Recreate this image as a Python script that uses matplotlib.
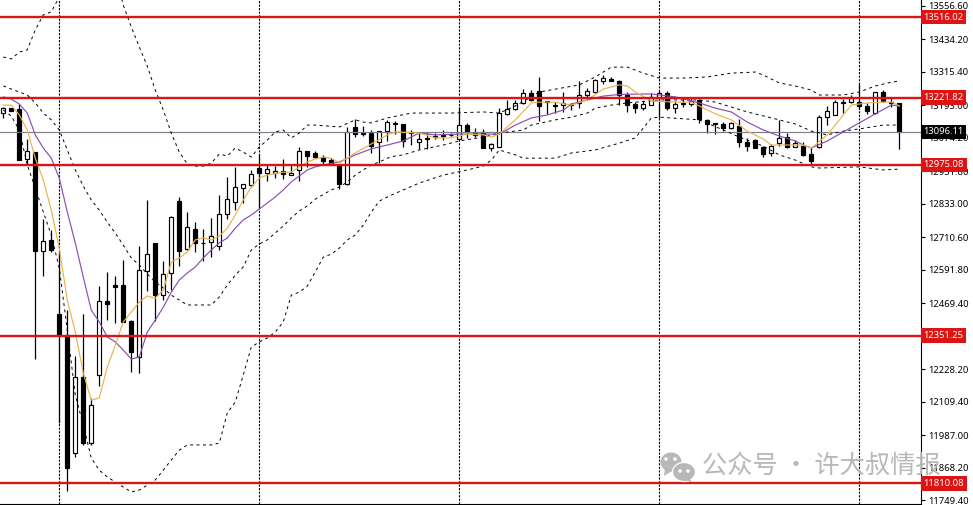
import matplotlib
matplotlib.use("Agg")
import matplotlib.pyplot as plt
from matplotlib.patches import Ellipse, Polygon

# candles, oldest first
opens = [13165,13182,13180,12996,13022,12661,12700,12430,12353,11920,12200,11957,12206,12478,12537,12536,12405,12272,12588,12688,12499,12579,12844,12667,12742,12691,12692,12680,12795,12838,12892,12902,12964,12945,12947,12954,12939,12957,13025,13018,13005,12993,12975,12905,13113,13092,13093,13058,13098,13130,13124,13096,13058,13073,13080,13084,13086,13071,13121,13085,13097,13036,13040,13163,13179,13201,13237,13244,13210,13196,13193,13198,13201,13230,13243,13283,13291,13281,13232,13198,13183,13196,13219,13237,13183,13201,13199,13213,13140,13127,13125,13111,13118,13060,13066,13040,13018,13054,13078,13042,13044,13014,13040,13149,13159,13205,13204,13206,13191,13164,13241,13204,13201]
highs = [13187,13183,13198,13069,13022,12777,12737,12661,12444,12276,12430,12123,12532,12585,12569,12627,12408,12679,12847,12690,12624,12788,12859,12803,12767,12741,12781,12865,12930,12966,12905,12957,13012,12975,12971,12996,12979,13040,13027,13027,13012,13000,12979,13115,13142,13118,13103,13100,13140,13137,13125,13103,13091,13097,13092,13103,13091,13186,13130,13109,13105,13056,13182,13213,13213,13252,13249,13296,13210,13206,13243,13203,13283,13255,13288,13303,13296,13286,13242,13206,13210,13237,13247,13247,13210,13223,13223,13215,13142,13129,13132,13133,13142,13073,13069,13044,13052,13140,13093,13066,13060,13042,13158,13191,13213,13215,13231,13274,13201,13243,13249,13219,13202]
lows = [13147,13172,12993,12979,12265,12569,12657,12031,11784,11908,11951,11951,12166,12408,12398,12402,12219,12215,12515,12405,12481,12518,12605,12664,12658,12625,12640,12664,12777,12810,12835,12896,12818,12917,12927,12923,12939,12917,12969,13000,12979,12979,12888,12901,13078,13081,13020,12981,13064,13088,13040,13048,13032,13032,13070,13066,13081,13069,13073,13078,13036,13027,13040,13158,13176,13198,13210,13137,13161,13166,13170,13176,13182,13213,13239,13271,13283,13194,13170,13164,13176,13194,13146,13176,13164,13188,13191,13127,13092,13088,13099,13105,13040,13027,13036,13005,13008,13044,13036,13040,13008,12979,13036,13121,13158,13166,13201,13179,13161,13161,13206,13186,13032]
closes = [13183,13173,12993,13027,12661,12698,12664,12353,11865,12200,11957,12097,12477,12466,12530,12402,12292,12591,12648,12499,12575,12786,12661,12749,12688,12688,12716,12795,12849,12893,12904,12942,12945,12959,12954,12941,12947,13025,13009,13005,12991,12979,12905,13094,13088,13089,13044,13098,13131,13126,13064,13093,13071,13069,13076,13081,13084,13120,13094,13093,13038,13051,13164,13181,13201,13237,13213,13192,13206,13192,13203,13194,13230,13244,13285,13292,13283,13232,13196,13183,13198,13223,13237,13183,13198,13198,13208,13142,13125,13124,13109,13127,13060,13044,13037,13015,13044,13075,13040,13054,13012,12991,13149,13171,13205,13203,13219,13192,13174,13241,13210,13201,13096]

# bollinger bands, read at some of the bars
upper_bars = [0,1,2,3,4,5,6,7,9,12,14,15,16,17,18,19,20,21,22,23,24,25,26,27,28,29,30,31,32,33,34,35,36,37,38,39,42,44,45,46,48,51,56,60,62,64,66,67,72,74,76,78,80,82,85,88,91,94,95,97,99,101,102,105,107,109,111,112]
upper = [13370,13363,13388,13396,13469,13524,13535,13590,13688,13761,13670,13560,13480,13407,13337,13249,13176,13092,13022,12979,12971,12971,12982,13015,13008,13037,13022,13004,13041,13066,13096,13103,13074,13092,13121,13121,13114,13140,13132,13129,13147,13165,13165,13169,13165,13191,13224,13242,13268,13297,13333,13333,13311,13293,13293,13297,13311,13315,13304,13275,13264,13249,13231,13231,13242,13264,13278,13282]
middle_bars = [0,1,2,3,4,5,6,7,8,9,10,11,12,13,14,15,16,17,18,19,20,21,22,23,26,27,28,29,30,31,32,33,35,36,37,38,39,41,42,43,44,45,46,47,48,49,50,52,55,57,60,62,65,66,69,71,73,74,76,78,82,87,89,91,93,97,99,101,103,105,107,110,112]
middle = [13264,13253,13242,13231,13202,13165,13140,13103,13030,12957,12898,12847,12810,12766,12726,12682,12635,12609,12576,12547,12525,12499,12481,12463,12463,12492,12536,12572,12602,12664,12686,12701,12752,12781,12807,12825,12850,12884,12894,12913,12938,12957,12975,12986,13000,13008,13012,13030,13048,13063,13077,13092,13103,13121,13140,13150,13165,13183,13194,13202,13213,13213,13205,13187,13169,13140,13125,13099,13085,13099,13107,13121,13121]
lower_bars = [0,1,2,3,4,5,6,7,8,9,10,11,12,13,14,15,16,17,18,19,20,21,22,23,26,27,28,29,30,31,32,33,34,35,36,37,38,39,40,41,42,43,44,45,46,47,48,50,52,55,58,60,61,62,64,65,69,71,74,77,79,80,81,82,87,90,92,95,97,99,101,102,107,110,112]
lower = [13176,13154,13103,12975,12891,12803,12719,12598,12371,12134,12024,11903,11859,11834,11815,11797,11779,11786,11804,11823,11859,11896,11932,11951,11951,11958,12068,12108,12207,12309,12328,12342,12364,12401,12499,12510,12532,12584,12638,12649,12671,12701,12719,12755,12803,12843,12858,12884,12909,12938,12957,12971,12993,13030,13012,13000,13000,13019,13030,13055,13074,13110,13147,13150,13140,13103,13077,13044,13012,12993,12968,12964,12968,12957,12960]

# moving averages
slow_bars = [0,1,2,3,4,5,6,7,8,9,10,11,12,13,14,15,16,17,18,19,20,21,22,23,24,25,26,27,28,29,30,31,32,33,34,35,36,37,38,39,40,42,44,46,48,50,52,54,57,60,62,64,66,68,70,71,73,75,77,81,84,87,89,91,93,95,97,99,100,101,103,105,107,109,111,112]
slow_ma = [13224,13216,13198,13165,13085,13037,13000,12927,12803,12690,12565,12444,12401,12346,12328,12298,12265,12273,12364,12408,12455,12510,12554,12580,12602,12635,12664,12690,12708,12744,12774,12792,12814,12836,12858,12884,12913,12935,12957,12968,12975,12986,13012,13034,13048,13063,13092,13085,13088,13088,13088,13121,13147,13158,13176,13198,13213,13227,13233,13235,13224,13202,13183,13169,13132,13103,13081,13063,13048,13037,13063,13096,13129,13162,13194,13191]
fast_bars = [0,1,2,3,4,5,6,7,8,9,10,11,12,13,14,15,16,17,18,19,20,21,22,23,24,25,26,27,28,29,30,31,32,33,35,36,37,38,39,40,41,42,43,44,46,48,49,52,54,56,58,60,61,62,64,66,67,69,71,73,75,77,78,79,81,84,86,87,89,91,93,95,96,100,101,103,105,106,108,110,111,112]
fast_ma = [13194,13194,13158,13103,13000,12920,12810,12671,12481,12364,12214,12115,12123,12236,12316,12401,12437,12474,12496,12488,12518,12620,12635,12657,12701,12708,12701,12715,12744,12792,12847,12894,12927,12938,12949,12949,12968,12986,12997,13004,13000,12982,13000,13019,13052,13085,13096,13092,13074,13074,13088,13085,13077,13088,13140,13202,13205,13205,13194,13213,13253,13268,13264,13242,13209,13205,13205,13191,13162,13140,13099,13070,13048,13048,13037,13085,13158,13194,13202,13205,13205,13191]

# horizontal levels and axis text
levels = [13516.02, 13221.82, 12975.08, 12351.25, 11810.08]
last_price = 13096.11
grid_bars = [7, 32, 57, 82, 107]
price_ticks = [13556.60, 13434.20, 13315.40, 13193.00, 13074.20, 12951.80, 12833.00, 12710.60,
               12591.80, 12469.40, 12347.00, 12228.20, 12109.40, 11987.00, 11868.20, 11749.40]
# 12347.00 sits under the red 12351.25 box, so it gets no text
price_labels = ["13556.60", "13434.20", "13315.40", "13193.00", "13074.20", "12951.80", "12833.00", "12710.60",
                "12591.80", "12469.40", "", "12228.20", "12109.40", "11987.00", "11868.20", "11749.40"]

RED = "#dc1414"

fig = plt.figure(figsize=(9.73, 5.05), dpi=100)
ax = fig.add_axes([0, 1 / 505, 921 / 973, 504 / 505])
ax.set_xlim(-0.41, 114.71)
ax.set_ylim(11735, 13578.5)

for b in grid_bars:
    ax.axvline(b, color="black", lw=0.8, ls=(0, (2, 1.2)), zorder=1)

# wicks then bodies
bars = list(range(len(closes)))
ax.vlines(bars, lows, highs, color="black", lw=0.9, zorder=2)
body_low = [min(o, c) for o, c in zip(opens, closes)]
body_h = [abs(o - c) for o, c in zip(opens, closes)]
colors = ["white" if c > o else "black" for o, c in zip(opens, closes)]
ax.bar(bars, body_h, bottom=body_low, width=0.52, color=colors, edgecolor="black", lw=0.85, zorder=3)

ax.axhline(last_price, color="#77818c", lw=0.85, zorder=4)

for xs, ys in [(upper_bars, upper), (middle_bars, middle), (lower_bars, lower)]:
    ax.plot(xs, ys, color="black", lw=0.7, ls=(0, (3, 3.6)), zorder=4)
ax.plot(slow_bars, slow_ma, color="#8a4fb0", lw=0.85, zorder=5)
ax.plot(fast_bars, fast_ma, color="#e9b44c", lw=0.85, zorder=5)

for lv in levels:
    ax.axhline(lv, color=RED, lw=1.7, zorder=6)

ax.spines["top"].set_visible(False)
ax.spines["left"].set_visible(False)
ax.set_xticks([])
ax.yaxis.tick_right()
ax.set_yticks(price_ticks)
ax.set_yticklabels(price_labels, fontsize=6.8, family="Noto Sans")
ax.tick_params(axis="y", length=3, width=0.8, pad=2)

yt = ax.get_yaxis_transform()
for lv in levels:
    ax.text(1.0245, lv, "%.2f" % lv, transform=yt, ha="center", va="center", fontsize=6.8,
            family="Noto Sans", color="white", zorder=10, clip_on=False,
            bbox=dict(fc=RED, ec="none", pad=2.0))
ax.text(1.0245, last_price, "%.2f" % last_price, transform=yt, ha="center", va="center", fontsize=6.8,
        family="Noto Sans", color="white", zorder=10, clip_on=False,
        bbox=dict(fc="black", ec="none", pad=2.0))

# watermark, in pixel coordinates
wm = fig.add_axes([0, 0, 1, 1], facecolor="none")
wm.set_xlim(0, 973)
wm.set_ylim(505, 0)
wm.axis("off")
gray = "#b4b4b4"
wm.add_patch(Ellipse((671, 462), 21, 19, fc=gray, ec="none", alpha=0.95))
wm.add_patch(Polygon([(665, 468), (664, 476), (672, 471)], fc=gray, ec="none", alpha=0.95))
wm.add_patch(Ellipse((684, 472), 23, 19, fc=gray, ec="white", lw=1, alpha=0.95))
wm.add_patch(Polygon([(689, 478), (692, 482), (684, 480)], fc=gray, ec="none", alpha=0.95))
for ex, ey in [(666, 459), (675, 459), (680, 471), (688, 471)]:
    wm.add_patch(Ellipse((ex, ey), 3.6, 3.6, fc="white", ec="none"))
wm.text(702, 466, "公众号 · 许大叔情报", fontsize=18.2, color=gray, alpha=0.95, va="center", ha="left",
        family=["Noto Sans CJK SC", "DejaVu Sans"])

fig.savefig("out.png", dpi=100)
